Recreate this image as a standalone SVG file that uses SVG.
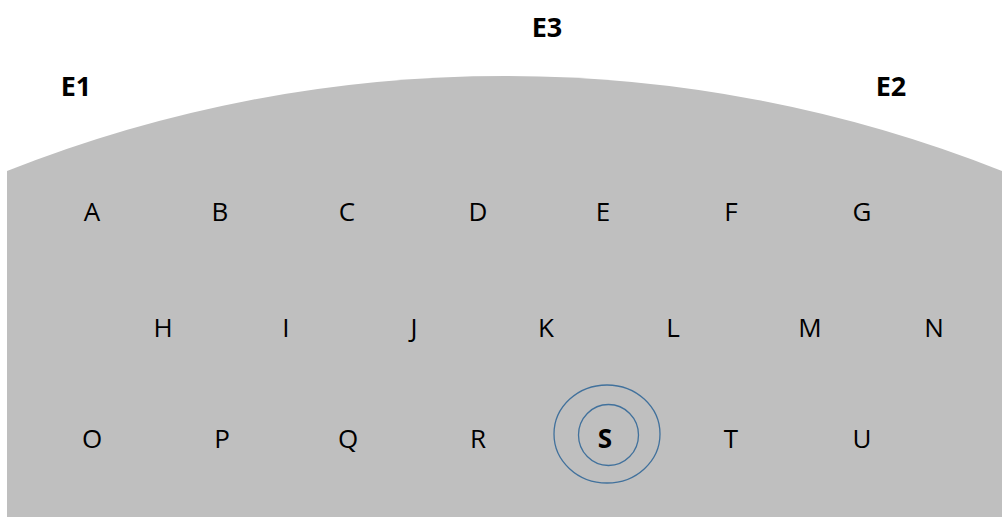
<svg xmlns="http://www.w3.org/2000/svg" width="1002" height="517" viewBox="0 0 1002 517">
<style>
.t{font-family:"Open Sans","Liberation Sans",sans-serif;font-size:26px;fill:#000;text-anchor:middle}
.b{font-weight:bold;font-size:27px}
.ring{fill:none;stroke:#41719c;stroke-width:1.3}
</style>
<rect width="1002" height="517" fill="#fff"/>
<path id="region" d="M7,171 A1350,1350 0 0 1 1002,171 L1002,517 L7,517 Z" fill="#bfbfbf"/>
<g id="labels-edge">
<g id="E1"><text class="t b" x="76" y="96">E1</text></g>
<g id="E3"><text class="t b" x="547" y="37">E3</text></g>
<g id="E2"><text class="t b" x="891" y="96">E2</text></g>
</g>
<g id="row1">
<g id="A"><text class="t" x="92" y="221">A</text></g>
<g id="B"><text class="t" x="220" y="221">B</text></g>
<g id="C"><text class="t" x="347" y="221">C</text></g>
<g id="D"><text class="t" x="478" y="221">D</text></g>
<g id="E"><text class="t" x="603" y="221">E</text></g>
<g id="F"><text class="t" x="731" y="221">F</text></g>
<g id="G"><text class="t" x="862" y="221">G</text></g>
</g>
<g id="row2">
<g id="H"><text class="t" x="163" y="337">H</text></g>
<g id="I"><text class="t" x="286" y="337">I</text></g>
<g id="J"><text class="t" x="414" y="337">J</text></g>
<g id="K"><text class="t" x="546" y="337">K</text></g>
<g id="L"><text class="t" x="673" y="337">L</text></g>
<g id="M"><text class="t" x="810" y="337">M</text></g>
<g id="N"><text class="t" x="934" y="337">N</text></g>
</g>
<g id="row3">
<g id="O"><text class="t" x="92" y="448">O</text></g>
<g id="P"><text class="t" x="222" y="448">P</text></g>
<g id="Q"><text class="t" x="348" y="448">Q</text></g>
<g id="R"><text class="t" x="478" y="448">R</text></g>
<g id="S">
<ellipse class="ring" cx="607" cy="434" rx="53" ry="49"/>
<ellipse class="ring" cx="608.5" cy="435" rx="30" ry="30.5"/>
<text class="t b" x="605" y="448" style="font-size:26px">S</text>
</g>
<g id="T"><text class="t" x="731" y="448">T</text></g>
<g id="U"><text class="t" x="862" y="448">U</text></g>
</g>
<g id="connectors"></g>
</svg>
